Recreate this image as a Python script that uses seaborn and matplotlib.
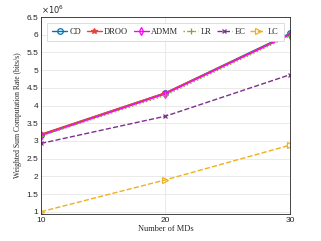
import matplotlib
matplotlib.use("Agg")
import matplotlib.pyplot as plt
import numpy as np
import pandas as pd
import seaborn as sns

sns.set_style("whitegrid")
plt.rcParams['font.family'] = ['Liberation Sans', 'DejaVu Sans']

num_mds = [10, 20, 30]
cd = [3.18e6, 4.36e6, 6.04e6]
droo = [3.19e6, 4.36e6, 6.02e6]
admm = [3.15e6, 4.33e6, 6.00e6]
lr = [3.14e6, 4.29e6, 5.97e6]
ec = [2.93e6, 3.70e6, 4.87e6]
lc = [1.00e6, 1.90e6, 2.88e6]

SERIES = [
	("CD", cd, "#0072BD", "o", "-", "none", 4),
	("DROO", droo, "#E8433A", "*", "-", "#E8433A", 4),
	("ADMM", admm, "#FF00FF", "d", "-", "none", 4),
	("LR", lr, "#77AC30", "+", ":", "#77AC30", 4),
	("EC", ec, "#7E2F8E", "x", "--", "#7E2F8E", 3),
	("LC", lc, "#EDB120", ">", "--", "none", 4),
]

fig = plt.figure(figsize=(3.21, 2.41), dpi=100)
ax = fig.add_axes([0.128, 0.112, 0.775, 0.817])

for name, vals, color, marker, ls, mfc, ms in SERIES:
	df = pd.DataFrame({"x": num_mds, "y": vals})
	sns.lineplot(data=df, x="x", y="y", ax=ax, color=color, marker=marker,
	             linestyle=ls, markerfacecolor=mfc, markeredgecolor=color,
	             markersize=ms, markeredgewidth=0.9, linewidth=1.0, label=name)

ax.set_xlim(10, 30)
ax.set_ylim(0.935e6, 6.5e6)
ax.set_xticks([10, 20, 30])
ax.set_yticks(np.arange(1e6, 6.51e6, 0.5e6))
ax.set_yticklabels(["1", "1.5", "2", "2.5", "3", "3.5", "4", "4.5", "5", "5.5", "6", "6.5"])
ax.tick_params(labelsize=6, colors="#262626", length=2, direction="in", pad=2)
ax.text(0.0, 1.005, r"$\times10^6$", transform=ax.transAxes, fontsize=6, color="#262626",
        ha="left", va="bottom")
ax.grid(True, color="#e6e6e6", linewidth=0.6)
for s in ax.spines.values():
	s.set_color("#262626")
	s.set_linewidth(0.6)

ax.set_xlabel("Number of MDs", family="Liberation Serif", fontsize=6, labelpad=1)
ax.set_ylabel("Weighted Sum Computation Rate (bits/s)", family="Liberation Serif", fontsize=5.5, labelpad=3)

leg = ax.legend(loc="upper left", ncol=6, prop={"family": "Liberation Serif", "size": 6},
                mode="expand", bbox_to_anchor=(0.008, 0.99, 0.984, 0.0),
                frameon=True, fancybox=False, edgecolor="#d0d0d0", framealpha=1,
                handlelength=1.8, handletextpad=0.3, columnspacing=0.5, borderpad=0.6)
leg.get_frame().set_linewidth(0.5)

fig.savefig("out.png", dpi=100)
